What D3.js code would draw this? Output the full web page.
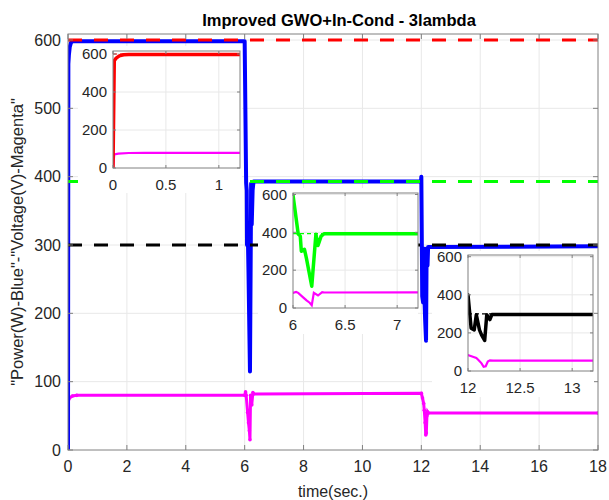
<!DOCTYPE html>
<html><head><meta charset="utf-8">
<script src="https://cdn.jsdelivr.net/npm/d3@7"></script>
<style>
html,body{margin:0;padding:0;background:#fff;}
svg{display:block;font-family:"Liberation Sans",Arial,sans-serif;}
</style></head>
<body><svg id="c" width="609" height="500"></svg>
<script>
// ---------- data ----------
const xTicks = [0,2,4,6,8,10,12,14,16,18];
const yTicks = [0,100,200,300,400,500,600];
const timeP  = [0,0.012,0.03,0.06,0.1,0.15,6.0,6.05,6.07,6.08,6.11,6.13,6.18,6.22,6.24,6.27,6.3,11.99,12.0,12.03,12.06,12.08,12.11,12.13,12.16,12.18,12.21,12.23,18];
const powerW = [0,565,578,590,596,598,598,391,380,300,310,260,115,390,330,380,393,393,400,225,216,295,216,190,160,295,270,297,298];
const timeV    = [0,0.012,0.05,0.15,0.3,6.0,6.03,6.05,6.1,6.13,6.16,6.18,6.2,6.24,6.28,6.3,12.0,12.04,12.08,12.1,12.13,12.15,12.17,12.19,12.21,12.24,18];
const voltageV = [0,72,76,79,80,80,85,80,55,40,28,15,80,66,84,82,83,76,68,58,40,22,25,50,56,54,54];
const refLevels = [600,393,300];
const refColors = ["#ff0000","#00ff00","#000000"];
const insetXDomains = [[0,1.2],[6,7.2],[12,13.2]];
const insetXTicks = [[0,0.5,1],[6,6.5,7],[12,12.5,13]];
const insetXLabels = [["0","0.5","1"],["6","6.5","7"],["12","12.5","13"]];
const insetYTicks = [0,200,400,600];
const insetPowerColors = ["#ff0000","#00ff00","#000000"];

// ---------- layout ----------
const svg = d3.select("#c");
const L=68,R=598,T=34,B=450;
const x = d3.scaleLinear().domain([0,18]).range([L,R]);
const y = d3.scaleLinear().domain([0,600]).range([B,40]);
const axisCol="#808080", textCol="#262626", gridCol="#e8e8e8";
const P = timeP.map((t,i)=>[t,powerW[i]]);
const V = timeV.map((t,i)=>[t,voltageV[i]]);

// grid
const g = svg.append("g");
xTicks.slice(1,-1).forEach(t=>g.append("line").attr("x1",x(t)).attr("x2",x(t)).attr("y1",T).attr("y2",B).attr("stroke",gridCol).attr("stroke-width",1));
yTicks.slice(1).forEach(v=>g.append("line").attr("x1",L).attr("x2",R).attr("y1",y(v)).attr("y2",y(v)).attr("stroke",gridCol).attr("stroke-width",1));

// data lines main
svg.append("defs").append("clipPath").attr("id","mainclip").append("rect").attr("x",L).attr("y",T).attr("width",R-L).attr("height",B-T);
const mg = svg.append("g").attr("clip-path","url(#mainclip)");
const lineM = d3.line().x(d=>x(d[0])).y(d=>y(d[1]));
mg.append("path").attr("d",lineM(V)).attr("fill","none").attr("stroke","#ff00ff").attr("stroke-width",3);
mg.selectAll("circle.v").data(V).enter().append("circle").attr("cx",d=>x(d[0])).attr("cy",d=>y(d[1])).attr("r",1.8).attr("fill","#ff00ff");
mg.append("path").attr("d",lineM(P)).attr("fill","none").attr("stroke","#0000ff").attr("stroke-width",4).attr("stroke-linejoin","round");
refLevels.forEach((lv,i)=>{
  mg.append("path").attr("d",lineM([[0,lv],[18,lv]])).attr("fill","none").attr("stroke",refColors[i]).attr("stroke-width",3).attr("stroke-dasharray","14,12");
});

// axes box and ticks
const ax = svg.append("g");
ax.append("rect").attr("x",L).attr("y",T).attr("width",R-L).attr("height",B-T).attr("fill","none").attr("stroke",axisCol).attr("stroke-width",1);
xTicks.forEach(t=>{
  ax.append("line").attr("x1",x(t)).attr("x2",x(t)).attr("y1",B).attr("y2",B-5).attr("stroke",axisCol);
  ax.append("line").attr("x1",x(t)).attr("x2",x(t)).attr("y1",T).attr("y2",T+5).attr("stroke",axisCol);
  ax.append("text").attr("x",x(t)).attr("y",B+22).attr("text-anchor","middle").attr("font-size",16).attr("fill",textCol).text(t);
});
yTicks.forEach(v=>{
  ax.append("line").attr("x1",L).attr("x2",L+5).attr("y1",y(v)).attr("y2",y(v)).attr("stroke",axisCol);
  ax.append("line").attr("x1",R).attr("x2",R-5).attr("y1",y(v)).attr("y2",y(v)).attr("stroke",axisCol);
  ax.append("text").attr("x",L-7).attr("y",y(v)).attr("dy","0.35em").attr("text-anchor","end").attr("font-size",16).attr("fill",textCol).text(v);
});
svg.append("text").attr("x",339).attr("y",26).attr("text-anchor","middle").attr("font-size",16.5).attr("font-weight","bold").attr("fill","#000").text("Improved GWO+In-Cond - 3lambda");
svg.append("text").attr("x",333).attr("y",497).attr("text-anchor","middle").attr("font-size",16).attr("fill",textCol).text("time(sec.)");
svg.append("text").attr("transform","translate(23,"+((T+B)/2)+") rotate(-90)").attr("text-anchor","middle").attr("font-size",16.5).attr("fill",textCol).text('"Power(W)-Blue"-"Voltage(V)-Magenta"');

// ---------- insets ----------
const boxes = [
  {l:113,r:240,t:51,b:168,y6:54, bg:[78,46,242,193]},
  {l:293,r:418,t:193,b:308,y6:194.5, bg:[258,188,418,334]},
  {l:468,r:593,t:255,b:371,y6:256.7, bg:[432,251,594,397]}
];
boxes.forEach((bx,k)=>{
  const gi = svg.append("g");
  gi.append("rect").attr("x",bx.bg[0]).attr("y",bx.bg[1]).attr("width",bx.bg[2]-bx.bg[0]).attr("height",bx.bg[3]-bx.bg[1]).attr("fill","#fff");
  const xi = d3.scaleLinear().domain(insetXDomains[k]).range([bx.l,bx.r]);
  const yi = d3.scaleLinear().domain([0,600]).range([bx.b,bx.y6]);
  insetXTicks[k].forEach(t=>{ if(t>insetXDomains[k][0]) gi.append("line").attr("x1",xi(t)).attr("x2",xi(t)).attr("y1",bx.t).attr("y2",bx.b).attr("stroke",gridCol);});
  insetYTicks.forEach(v=>{ if(v>0) gi.append("line").attr("x1",bx.l).attr("x2",bx.r).attr("y1",yi(v)).attr("y2",yi(v)).attr("stroke",gridCol);});
  const cid="ic"+k;
  svg.select("defs").append("clipPath").attr("id",cid).append("rect").attr("x",bx.l).attr("y",bx.t).attr("width",bx.r-bx.l).attr("height",bx.b-bx.t);
  const gc = gi.append("g").attr("clip-path","url(#"+cid+")");
  const li = d3.line().x(d=>xi(d[0])).y(d=>yi(d[1]));
  gc.append("path").attr("d",li([[insetXDomains[k][0],refLevels[k]],[insetXDomains[k][1],refLevels[k]]])).attr("fill","none").attr("stroke",refColors[k]).attr("stroke-width",1.2).attr("stroke-dasharray","4,3");
  gc.append("path").attr("d",li(V)).attr("fill","none").attr("stroke","#ff00ff").attr("stroke-width",2.2);
  gc.append("path").attr("d",li(P)).attr("fill","none").attr("stroke",insetPowerColors[k]).attr("stroke-width",3.5).attr("stroke-linejoin","round");
  gi.append("rect").attr("x",bx.l).attr("y",bx.t).attr("width",bx.r-bx.l).attr("height",bx.b-bx.t).attr("fill","none").attr("stroke",axisCol);
  insetXTicks[k].forEach((t,j)=>{
    gi.append("line").attr("x1",xi(t)).attr("x2",xi(t)).attr("y1",bx.b).attr("y2",bx.b-3).attr("stroke",axisCol);
    gi.append("line").attr("x1",xi(t)).attr("x2",xi(t)).attr("y1",bx.t).attr("y2",bx.t+3).attr("stroke",axisCol);
    gi.append("text").attr("x",xi(t)).attr("y",bx.b+22).attr("text-anchor","middle").attr("font-size",15).attr("fill",textCol).text(insetXLabels[k][j]);
  });
  insetYTicks.forEach(v=>{
    gi.append("line").attr("x1",bx.l).attr("x2",bx.l+3).attr("y1",yi(v)).attr("y2",yi(v)).attr("stroke",axisCol);
    gi.append("line").attr("x1",bx.r).attr("x2",bx.r-3).attr("y1",yi(v)).attr("y2",yi(v)).attr("stroke",axisCol);
    gi.append("text").attr("x",bx.l-6).attr("y",yi(v)).attr("dy","0.35em").attr("text-anchor","end").attr("font-size",15).attr("fill",textCol).text(v);
  });
});
</script></body></html>
